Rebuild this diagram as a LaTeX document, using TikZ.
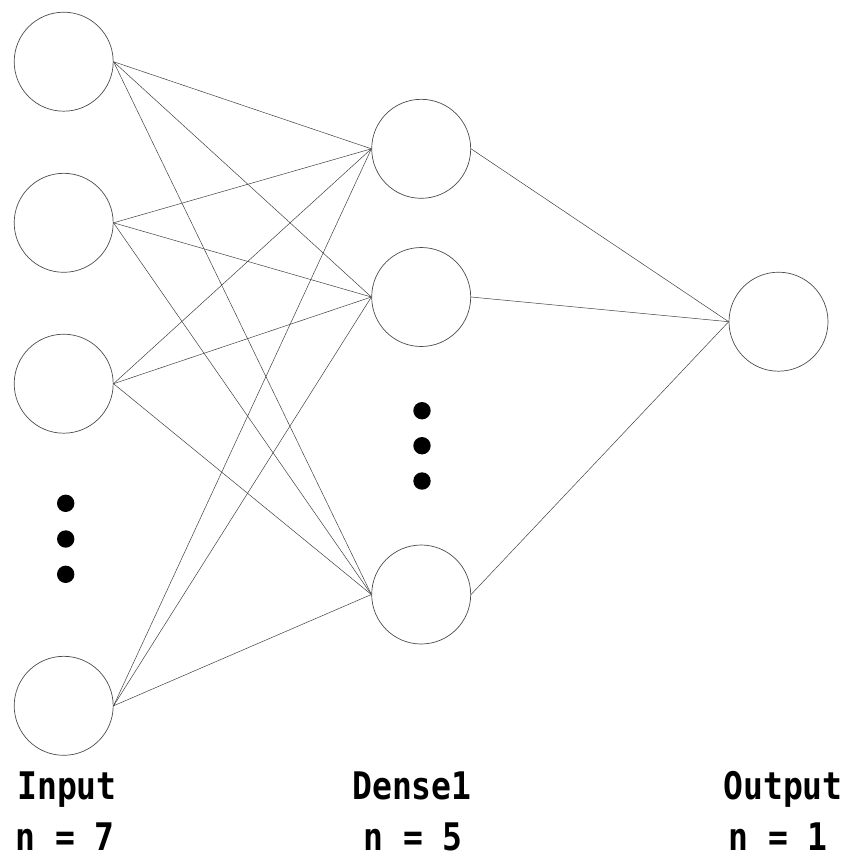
\documentclass[tikz,border=0pt]{standalone}
\usepackage{fontspec}
\newfontfamily\labelfont[FakeStretch=0.87]{DejaVu Sans Mono}
\usetikzlibrary{positioning}

\begin{document}
\begin{tikzpicture}[x=1pt,y=-1pt,
    neuron/.style={circle,draw=black!70,line width=0.7pt,minimum size=99pt,inner sep=0pt},
    dotmark/.style={circle,fill=black,minimum size=17.4pt,inner sep=0pt},
    layername/.style={anchor=base,inner sep=0pt,font=\labelfont\bfseries\fontsize{38}{40}\selectfont},
    link/.style={draw=black!75,line width=0.5pt}]
                \useasboundingbox (0,0) rectangle (846,855);
                % Nodes
                \node[neuron] (Input1) at (63.7,61.7) {};
                \node[neuron] (Input2) at (63.7,222.8) {};
                \node[neuron] (Input3) at (63.7,383.7) {};
                \node[neuron] (InputN) at (63.7,705.8) {};

                \node[neuron] (Dense1) at (421.2,148.8) {};
                \node[neuron] (Dense2) at (421.2,297) {};
                \node[neuron] (DenseN) at (421.2,594.5) {};

                \node[neuron] (Output) at (778.5,321.7) {};

                \node[dotmark] (InDotA) at (65.7,503.3) {};
                \node[dotmark] (InDotB) at (65.7,539) {};
                \node[dotmark] (InDotC) at (65.7,574.3) {};
                \node[dotmark] (DenseDotA) at (422,410.7) {};
                \node[dotmark] (DenseDotB) at (422,445.7) {};
                \node[dotmark] (DenseDotC) at (422,481) {};

                % Labels
                \node[layername] (InputName) at (67,799) {Input};
                \node[layername] (InputSize) at (65,850) {n = 7};
                \node[layername] (DenseName) at (412,799) {Dense1};
                \node[layername] (DenseSize) at (413,850) {n = 5};
                \node[layername] (OutputName) at (783,799) {Output};
                \node[layername] (OutputSize) at (778,850) {n = 1};

                % Links
                \draw[link] (Input1.east) -- (Dense1.west);
                \draw[link] (Input1.east) -- (Dense2.west);
                \draw[link] (Input1.east) -- (DenseN.west);

                \draw[link] (Input2.east) -- (Dense1.west);
                \draw[link] (Input2.east) -- (Dense2.west);
                \draw[link] (Input2.east) -- (DenseN.west);

                \draw[link] (Input3.east) -- (Dense1.west);
                \draw[link] (Input3.east) -- (Dense2.west);
                \draw[link] (Input3.east) -- (DenseN.west);

                \draw[link] (InputN.east) -- (Dense1.west);
                \draw[link] (InputN.east) -- (Dense2.west);
                \draw[link] (InputN.east) -- (DenseN.west);

                \draw[link] (Dense1.east) -- (Output.west);
                \draw[link] (Dense2.east) -- (Output.west);
                \draw[link] (DenseN.east) -- (Output.west);
              \end{tikzpicture}
\end{document}
